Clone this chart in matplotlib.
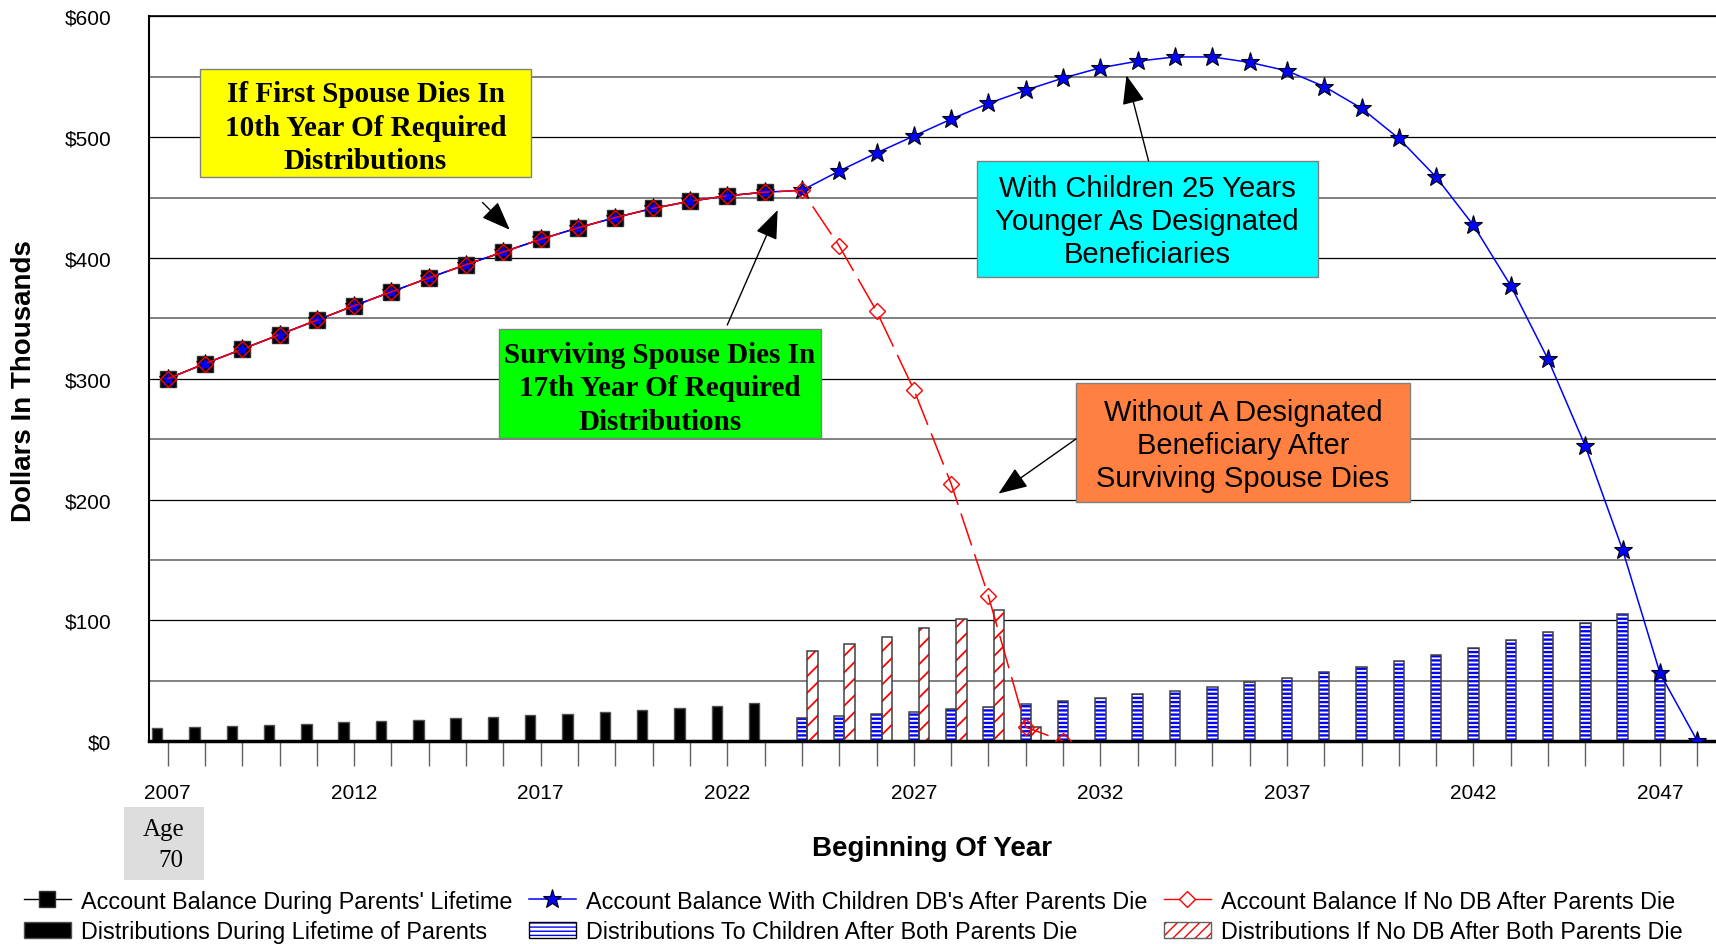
import matplotlib
matplotlib.use('Agg')
import matplotlib.pyplot as plt
from matplotlib.patches import Rectangle, Patch
from matplotlib.lines import Line2D
from matplotlib import font_manager
import numpy as np

# ---- data (thousands of dollars) ----
years = list(range(2007, 2049))
x_tick_labels = [str(y) if (y - 2007) % 5 == 0 else '' for y in years]
y_ticks = [0, 100, 200, 300, 400, 500, 600]
y_tick_labels = ['$0', '$100', '$200', '$300', '$400', '$500', '$600']

parent_years = list(range(2007, 2024))
parent_balance = [300, 312.5, 324.5, 336.5, 348.5, 360.5, 372, 383.5, 394.5,
                  405, 415.5, 425, 433.5, 441, 447, 451.5, 454.5]
parent_dist = [11, 11.8, 12.6, 13.5, 14.4, 15.4, 16.4, 17.5, 18.7, 20.0,
               21.3, 22.7, 24.2, 25.8, 27.5, 29.3, 31.5]

child_years = list(range(2007, 2049))
child_balance = parent_balance + [456, 472, 487, 501, 515, 528, 539, 549, 557.5,
                                  563, 566.5, 566.5, 562, 555, 542, 524, 499, 467,
                                  427, 377, 316, 244, 158, 56, 0]
child_dist_years = list(range(2024, 2048))
child_dist = [19, 20.6, 22.5, 24.2, 26.1, 28.3, 30.6, 33, 35.8, 38.9, 41.7, 45,
              48.6, 52.5, 57, 61.7, 66.4, 71, 77, 83.5, 90.5, 98, 105, 56]

nodb_years = list(range(2007, 2032))
nodb_balance = parent_balance + [456, 410, 356, 291, 213, 120, 11.5, 0]
nodb_dist_years = list(range(2024, 2031))
nodb_dist = [74.5, 80.2, 86.3, 93.4, 100.8, 108.8, 11.5]

# fuentes
names = {f.name for f in font_manager.fontManager.ttflist}
narrow = 'Liberation Sans Narrow' in names
plt.rcParams['font.family'] = 'Liberation Sans'
SERIF = 'Liberation Serif'

fig = plt.figure(figsize=(17.16, 9.45), dpi=100)
ax = fig.add_axes([0.0868, 0.2148, 0.9132, 0.7667])

W = 0.28
EDGE = '#404040'

def hatched_bars(xs, vals, off, color, hatch, hlw):
    with plt.rc_context({'hatch.linewidth': hlw}):
        bars = ax.bar(np.array(xs) + off, vals, W, color='white', edgecolor=color,
                      hatch=hatch, linewidth=0, zorder=2)
        for b in bars:
            if hasattr(b, 'set_hatch_linewidth'):
                b.set_hatch_linewidth(hlw)
    ax.bar(np.array(xs) + off, vals, W, fill=False, edgecolor=EDGE, linewidth=1.1, zorder=2.1)

ax.bar(np.array(parent_years) - W, parent_dist, W, color='black', edgecolor='#505050',
       linewidth=1, zorder=2)
hatched_bars(child_dist_years, child_dist, 0, '#0000FF', '----', 1.7)
hatched_bars(nodb_dist_years, nodb_dist, W, '#FF0000', '//', 1.3)

l_par, = ax.plot(parent_years, parent_balance, '-', color='black', lw=1,
                 marker='s', ms=11, mfc='black', mec='#303030', zorder=3)
l_child, = ax.plot(child_years, child_balance, '-', color='#0000FF', lw=1.1,
                   marker='*', ms=14, mfc='#0000FF', mec='black', mew=0.8, zorder=4)
l_nodb, = ax.plot(nodb_years, nodb_balance, color='#FF0000', lw=1.1, dashes=(22, 6),
                  marker='D', ms=8, mfc='none', mec='#FF0000', mew=1, zorder=5)

ax.set_xlim(2006.5, 2048.5)
ax.set_ylim(0, 600)
ax.set_xticks(years)
ax.set_xticklabels(x_tick_labels, fontsize=15)
ax.set_yticks(y_ticks)
ax.set_yticklabels(y_tick_labels, fontsize=15)
ax.set_yticks(range(50, 600, 100), minor=True)
ax.tick_params(axis='x', length=18, width=1, color='#606060', pad=12)
ax.tick_params(axis='y', which='both', length=0, pad=27)
ax.grid(True, axis='y', which='major', color='black', lw=0.9)
ax.grid(True, axis='y', which='minor', color='#808080', lw=1.4)
ax.set_axisbelow(True)
ax.spines['right'].set_visible(False)
ax.spines['left'].set_linewidth(1.5)
ax.spines['top'].set_linewidth(1.2)
ax.spines['bottom'].set_linewidth(2.5)

# cajas de texto
def caja(x0, x1, y0, y1, color, txt, serif, size):
    ax.add_patch(Rectangle((x0, y0), x1 - x0, y1 - y0, facecolor=color,
                           edgecolor='#808080', lw=1, zorder=6))
    if serif:
        ax.text((x0 + x1) / 2, (y0 + y1) / 2 - 3.5, txt, family=SERIF, weight='bold',
                fontsize=size, ha='center', va='center', zorder=7, linespacing=1.3)
    else:
        ax.text((x0 + x1) / 2, (y0 + y1) / 2 - 2, txt, fontsize=size,
                ha='center', va='center', zorder=7, linespacing=1.22)

def flecha(start, tip):
    ax.annotate('', xy=tip, xytext=start, zorder=8,
                arrowprops=dict(arrowstyle='-|>,head_length=0.9,head_width=0.35',
                                mutation_scale=20, color='black', lw=1,
                                shrinkA=0, shrinkB=0))

caja(2007.88, 2016.73, 466.9, 556.7, '#FFFF00',
     'If First Spouse Dies In\n10th Year Of Required\nDistributions', True, 21)
caja(2028.68, 2037.83, 384.4, 480.5, '#00FFFF',
     'With Children 25 Years\nYounger As Designated\nBeneficiaries', False, 21)
caja(2015.88, 2024.52, 251.1, 340.9, '#00FF00',
     'Surviving Spouse Dies In\n17th Year Of Required\nDistributions', True, 21)
caja(2031.35, 2040.29, 197.6, 296.5, '#FF8040',
     'Without A Designated\nBeneficiary After\nSurviving Spouse Dies', False, 21)

flecha((2015.44, 446), (2016.17, 423.4))
flecha((2033.29, 480.5), (2032.70, 551.2))
flecha((2022.0, 344.5), (2023.35, 439.7))
flecha((2031.35, 250.2), (2029.27, 204.9))

# etiquetas de ejes
if narrow:
    lab = dict(family='Liberation Sans Narrow', weight='bold', fontsize=24)
else:
    lab = dict(weight='bold', fontsize=20)
fig.text(0.014, 0.597, 'Dollars In Thousands', rotation=90, ha='center', va='center', **lab)
fig.text(0.543, 0.102, 'Beginning Of Year', ha='center', va='center', **lab)

# caja Age 70
fig.patches.append(Rectangle((0.0722, 0.068), 0.0465, 0.077, transform=fig.transFigure,
                             facecolor='#DDDDDD', edgecolor='none', figure=fig))
fig.text(0.0955, 0.122, 'Age', family=SERIF, fontsize=18, ha='center', va='center')
fig.text(0.0995, 0.089, '70', family=SERIF, fontsize=18, ha='center', va='center')

# leyenda
h_black = Patch(facecolor='black', edgecolor='#505050')
with plt.rc_context({'hatch.linewidth': 1.7}):
    h_blue = (Patch(facecolor='white', edgecolor='#0000FF', hatch='----', lw=0),
              Patch(fill=False, edgecolor='black', lw=1))
with plt.rc_context({'hatch.linewidth': 1.3}):
    h_red = (Patch(facecolor='white', edgecolor='#FF0000', hatch='///', lw=0),
             Patch(fill=False, edgecolor='#606060', lw=1))
h_nodb = Line2D([], [], color='#FF0000', lw=1, marker='D', ms=8, mfc='white', mec='#FF0000')

handles = [l_par, h_black, l_child, h_blue, h_nodb, h_red]
labels = ["Account Balance During Parents' Lifetime",
          'Distributions During Lifetime of Parents',
          "Account Balance With Children DB's After Parents Die",
          'Distributions To Children After Both Parents Die',
          'Account Balance If No DB After Parents Die',
          'Distributions If No DB After Both Parents Die']
fig.legend(handles, labels, ncol=3, loc='lower left', bbox_to_anchor=(0.012, -0.003),
           frameon=False, fontsize=16.8, handlelength=2.0, handletextpad=0.45,
           columnspacing=0.7, labelspacing=0.33, borderpad=0.15, borderaxespad=0)

fig.savefig('out.png', dpi=100)
